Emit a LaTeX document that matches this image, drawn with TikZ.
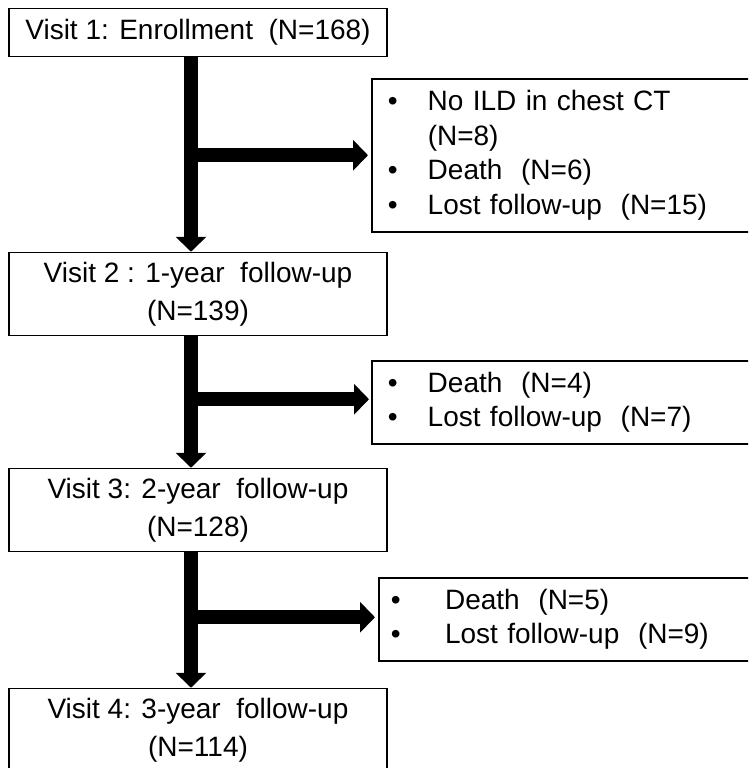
\documentclass[tikz,border=0pt]{standalone}
\usepackage{fontspec}
\setmainfont{Liberation Sans}
\usetikzlibrary{arrows.meta}
\newcommand\lossitem[1][40pt]{\makebox[#1][l]{\textbullet}}
\newcommand\lossgap[1][40pt]{\hspace*{#1}}
\begin{document}
\begin{tikzpicture}[x=1pt,y=-1pt,
    visit/.style={draw,line width=1.5pt,minimum width=378pt,minimum height=83pt,
      align=center,inner sep=0pt,font=\fontsize{28}{38}\selectfont},
    loss/.style={draw,line width=1.5pt,anchor=north west,align=left,
      inner ysep=0pt,text width=400pt,font=\fontsize{28}{34.5}\selectfont},
    flow/.style={line width=14pt,-{Triangle[length=15pt,width=30pt]}}]
  \useasboundingbox (0,0) rectangle (748,768);
  \clip (0,0) rectangle (748,768);
  \node[visit,minimum height=48pt] (v1) at (198,32.5) {Visit 1: Enrollment~ (N=168)};
  \node[visit] (v2) at (198,294) {Visit 2 : 1-year~ follow-up\\(N=139)};
  \node[visit] (v3) at (198,510) {Visit 3: 2-year~ follow-up\\(N=128)};
  \node[visit] (v4) at (198,730) {Visit 4: 3-year~ follow-up\\(N=114)};
  \node[loss,inner xsep=16pt,minimum height=153pt] (s1) at (371,78)
    {\lossitem No ILD in chest CT\\\lossgap(N=8)\\\lossitem Death~ (N=6)\\\lossitem Lost follow-up~ (N=15)};
  \node[loss,inner xsep=16pt,minimum height=83pt] (s2) at (371,360)
    {\lossitem Death~ (N=4)\\\lossitem Lost follow-up~ (N=7)};
  \node[loss,inner xsep=12pt,minimum height=83pt] (s3) at (378,577)
    {\lossitem[45pt] Death~ (N=5)\\\lossitem[45pt] Lost follow-up~ (N=9)};
  \coordinate (a1) at ([xshift=-7pt]v1.south);
  \coordinate (a2) at ([xshift=-7pt]v2.south);
  \coordinate (a3) at ([xshift=-7pt]v3.south);
  \coordinate (e1) at ([xshift=-3pt]s1.west);
  \coordinate (e2) at ([xshift=-2pt,yshift=3pt]s2.west);
  \coordinate (e3) at ([xshift=-3pt,yshift=2pt]s3.west);
  \begin{scope}[flow]
    \draw (a1) -- (a1 |- v2.north);
    \draw (a2) -- (a2 |- v3.north);
    \draw (a3) -- (a3 |- v4.north);
    \draw (a1 |- e1) -- (e1);
    \draw (a2 |- e2) -- (e2);
    \draw (a3 |- e3) -- (e3);
  \end{scope}
\end{tikzpicture}
\end{document}
